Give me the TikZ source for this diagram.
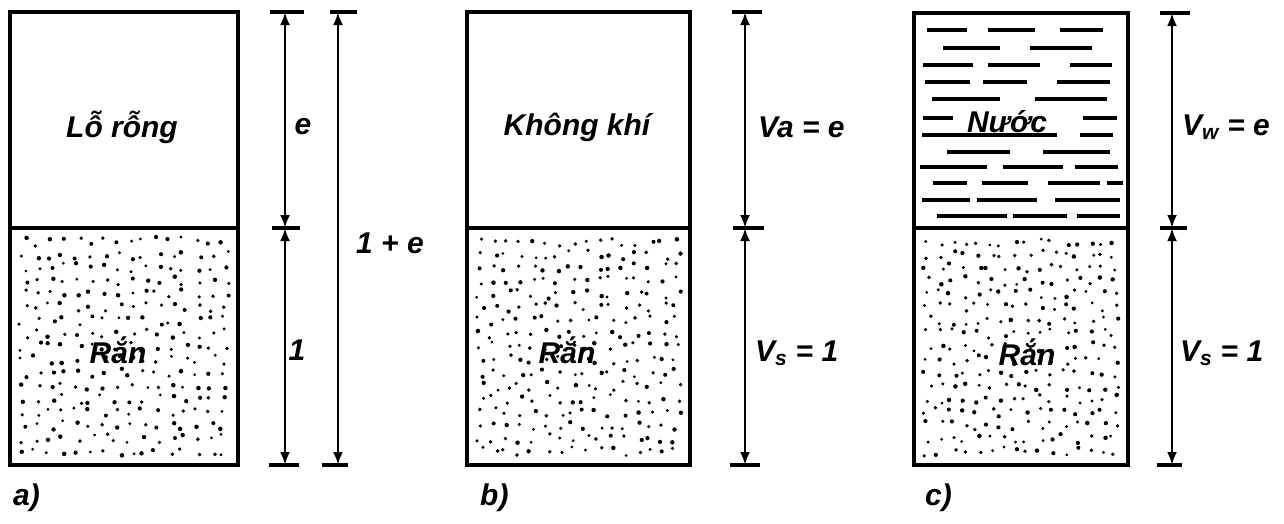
\documentclass[tikz,border=0pt]{standalone}
\usepackage{fontspec}
\setmainfont{Liberation Sans}
\usetikzlibrary{arrows.meta}
\newcommand\mystipple[4]{%
  \foreach \i in {0,...,15}{\foreach \j in {0,...,16}{%
    \pgfmathsetmacro\xx{#1+7+(\i+0.15+0.7*rnd)*((#3-#1-14)/16)}%
    \pgfmathsetmacro\yy{#2+7+(\j+0.15+0.7*rnd)*((#4-#2-14)/17)}%
    \pgfmathsetmacro\rr{1.5+0.8*rnd}%
    \fill (\xx,\yy) circle (\rr);
  }}}
\tikzset{
  box/.style={line width=3.8pt, line join=miter},
  tickline/.style={line width=3.8pt},
  dimline/.style={line width=2.8pt, {Latex[length=13pt,width=10pt]}-{Latex[length=13pt,width=10pt]}},
  lbl/.style={font=\fontsize{30}{34}\selectfont\bfseries\itshape, inner sep=0pt},
  waterline/.style={line width=3.4pt},
}
\begin{document}
\begin{tikzpicture}[x=1pt,y=-1pt]
\useasboundingbox (0,0) rectangle (1284,523);
\pgfmathsetseed{4711}
% ---------- panel a ----------
\draw[box] (10,12) rectangle (238,465);
\draw[box] (10,228) -- (238,228);
\mystipple{10}{228}{238}{465}
\node[lbl] (aVoid) at (122,127) {Lỗ rỗng};
\node[lbl] (aSolid) at (118,350) {Rắn};
\coordinate (aT) at (285,12); \coordinate (aM) at (285,228); \coordinate (aB) at (285,465);
\coordinate (aT2) at (338,12); \coordinate (aB2) at (338,465);
\draw[tickline] ([xshift=-15pt]aT) -- ([xshift=19pt]aT);
\draw[tickline] ([xshift=-13pt]aM) -- ([xshift=15pt]aM);
\draw[tickline] ([xshift=-16pt]aB) -- ([xshift=14pt]aB);
\draw[tickline] ([xshift=-8pt]aT2) -- ([xshift=19pt]aT2);
\draw[tickline] ([xshift=-16pt]aB2) -- ([xshift=10pt]aB2);
\draw[dimline] (aT) -- (aM);
\draw[dimline] (aM) -- (aB);
\draw[dimline] (aT2) -- (aB2);
\node[lbl] (aE) at (303,127) {e};
\node[lbl] (aOne) at (297,350) {1};
\node[lbl] (aSum) at (390,243) {1 + e};
\node[lbl, anchor=west] (aCap) at (13,498) {a)};
% ---------- panel b ----------
\draw[box] (467,12) rectangle (690,465);
\draw[box] (467,228) -- (690,228);
\mystipple{467}{228}{690}{465}
\node[lbl] (bAir) at (577,127) {Không khí};
\node[lbl] (bSolid) at (567,350) {Rắn};
\coordinate (bT) at (745,12); \coordinate (bM) at (745,228); \coordinate (bB) at (745,465);
\draw[tickline] ([xshift=-13pt]bT) -- ([xshift=17pt]bT);
\draw[tickline] ([xshift=-12pt]bM) -- ([xshift=19pt]bM);
\draw[tickline] ([xshift=-15pt]bB) -- ([xshift=15pt]bB);
\draw[dimline] (bT) -- (bM);
\draw[dimline] (bM) -- (bB);
\node[lbl, anchor=west] (bVa) at (758,127) {Va = e};
\node[lbl, anchor=west] (bVs) at (755,353) {V\textsubscript{s} = 1};
\node[lbl, anchor=west] (bCap) at (480,498) {b)};
% ---------- panel c ----------
\draw[box] (914,13) rectangle (1128,465);
\draw[box] (914,228) -- (1128,228);
\mystipple{914}{228}{1128}{465}
\foreach \yy/\xa/\xb in {
  30/927/967, 30/988/1035, 30/1060/1103,
  48/943/1000, 48/1030/1092,
  65/923/973, 65/988/1040, 65/1070/1112,
  82/925/970, 82/983/1027, 82/1057/1110,
  99/932/1000, 99/1035/1107,
  118/923/953, 118/1083/1117,
  135/922/1057, 135/1080/1113,
  152/947/1010, 152/1043/1110,
  167/920/987, 167/1003/1063, 167/1075/1118,
  183/933/967, 183/982/1028, 183/1048/1100, 183/1107/1123,
  200/922/970, 200/977/1037, 200/1055/1120,
  216/937/1007, 216/1013/1067, 216/1077/1120}
  {\draw[waterline] (\xa,\yy) -- (\xb,\yy);}
\node[lbl, anchor=base] (cWater) at (1007,132) {Nước};
\node[lbl] (cSolid) at (1027,352) {Rắn};
\coordinate (cT) at (1172,13); \coordinate (cM) at (1172,228); \coordinate (cB) at (1172,465);
\draw[tickline] ([xshift=-12pt]cT) -- ([xshift=18pt]cT);
\draw[tickline] ([xshift=-12pt]cM) -- ([xshift=15pt]cM);
\draw[tickline] ([xshift=-15pt]cB) -- ([xshift=10pt]cB);
\draw[dimline] (cT) -- (cM);
\draw[dimline] (cM) -- (cB);
\node[lbl, anchor=west] (cVw) at (1182,127) {V\textsubscript{w} = e};
\node[lbl, anchor=west] (cVs) at (1180,353) {V\textsubscript{s} = 1};
\node[lbl, anchor=west] (cCap) at (925,498) {c)};
\end{tikzpicture}
\end{document}
